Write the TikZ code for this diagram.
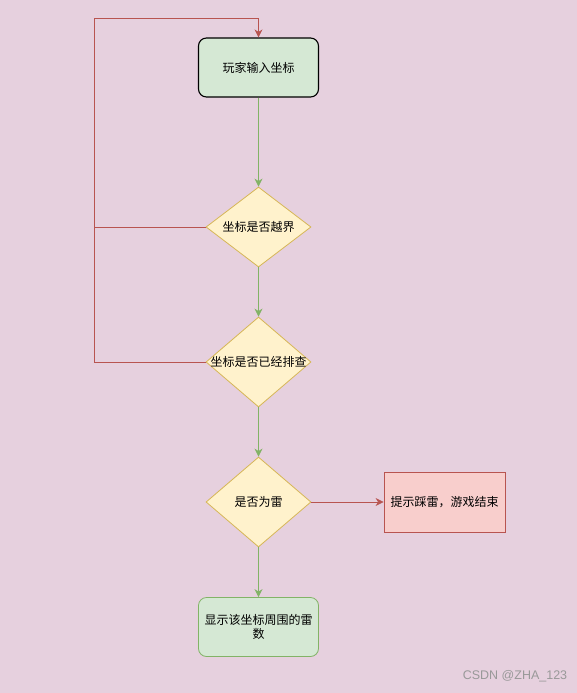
\documentclass[tikz,border=0pt]{standalone}
\usepackage{fontspec}
\newfontfamily\cjk{Noto Sans CJK SC}
\setsansfont{Liberation Sans}
\usetikzlibrary{shapes.geometric,arrows.meta}
\definecolor{bgpink}{HTML}{E6D0DE}
\definecolor{gfill}{HTML}{D5E8D4}
\definecolor{gline}{HTML}{82B366}
\definecolor{yfill}{HTML}{FFF2CC}
\definecolor{yline}{HTML}{D6B656}
\definecolor{rfill}{HTML}{F8CECC}
\definecolor{rline}{HTML}{B85450}
\newcommand{\ztext}[1]{\makebox[0pt]{#1}}
\begin{document}
\begin{tikzpicture}[x=1pt,y=-1pt,
  every node/.style={font=\cjk\fontsize{12}{14}\selectfont},
  stepbox/.style={draw=gline, fill=gfill, rounded corners=8pt, minimum width=120pt, minimum height=59pt, align=center, line width=0.8pt},
  decision/.style={diamond, draw=yline, fill=yfill, inner sep=0pt, minimum width=105pt, line width=0.8pt},
  endbox/.style={draw=rline, fill=rfill, minimum width=121pt, minimum height=60pt, line width=0.8pt},
  yes/.style={draw=gline, line width=0.8pt, -{Stealth[length=8pt,width=8pt,inset=2.5pt]}},
  no/.style={draw=rline, line width=0.8pt, -{Stealth[length=8pt,width=8pt,inset=2.5pt]}}]
\fill[bgpink] (0,0) rectangle (577,693);
\useasboundingbox (0,0) rectangle (577,693);
\node[stepbox, draw=black, line width=1.1pt] (input) at (258.5,67.5) {玩家输入坐标};
\node[decision, minimum height=80pt] (range) at (258.5,227) {\ztext{坐标是否越界}};
\node[decision, minimum height=90pt] (checked) at (258.5,362) {\ztext{坐标是否已经排查}};
\node[decision, minimum height=90pt] (mine) at (258.5,502) {\ztext{是否为雷}};
\node[endbox] (boom) at (444.5,502) {提示踩雷，游戏结束};
\node[stepbox] (count) at (258.5,627) {显示该坐标周围的雷\\数};
\coordinate (back) at (94,18);
\draw[yes] (input) -- (range);
\draw[yes] (range) -- (checked);
\draw[yes] (checked) -- (mine);
\draw[yes] (mine) -- (count);
\draw[no] (mine) -- (boom);
\draw[rline, line width=0.8pt] (checked.west) -| (back);
\draw[no] (range.west) -| (back) -| (input.north);
\node[font=\sffamily\fontsize{12.5}{14}\selectfont, text=black!40] (mark) at (515,676) {CSDN @ZHA\_123};
\end{tikzpicture}
\end{document}
